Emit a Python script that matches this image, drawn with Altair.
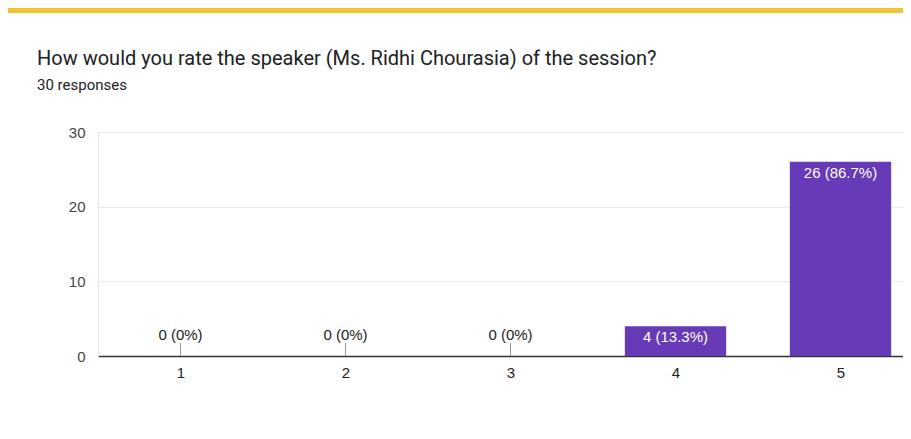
import altair as alt
import pandas as pd

ratings = [1, 2, 3, 4, 5]
counts = [0, 0, 0, 4, 26]
labels = ["0 (0%)", "0 (0%)", "0 (0%)", "4 (13.3%)", "26 (86.7%)"]
title_text = "How would you rate the speaker (Ms. Ridhi Chourasia) of the session?"
subtitle_text = "30 responses"

df = pd.DataFrame({"rating": ratings, "count": counts, "label": labels})

W, H = 805, 224
half = 0.307

x_scale = alt.Scale(domain=[0.5, 0.5 + W / 165], nice=False, zero=False)
y_scale = alt.Scale(domain=[0, 30], nice=False)

base = alt.Chart(df)

bars = base.transform_filter("datum.count > 0").transform_calculate(
    x1=f"datum.rating - {half}", x2=f"datum.rating + {half}"
).mark_rect(color="#673ab7").encode(
    x=alt.X("x1:Q", scale=x_scale, axis=alt.Axis(
        values=ratings, title=None, ticks=False, grid=False, format="d",
        domainColor="#333333", domainWidth=1.5,
        labelFontSize=15, labelColor="#222222", labelFont="Liberation Sans",
        labelPadding=9)),
    x2="x2:Q",
    y=alt.Y("count:Q", scale=y_scale, axis=alt.Axis(
        values=[0, 5, 10, 15, 20, 25, 30], title=None, ticks=False,
        labelExpr="datum.value % 10 == 0 ? datum.label : ''",
        gridColor={"condition": {"test": "datum.value % 10 == 0", "value": "#ebebeb"}, "value": "#f4f4f4"},
        gridWidth=1,
        domainColor="#e6e6e6",
        labelFontSize=15, labelColor="#444444", labelFont="Liberation Sans",
        labelPadding=13)),
    y2=alt.datum(0),
)

in_labels = base.transform_filter("datum.count > 0").mark_text(
    color="white", fontSize=15, font="Liberation Sans", baseline="middle", dy=11
).encode(x=alt.X("rating:Q", scale=x_scale), y=alt.Y("count:Q", scale=y_scale), text="label:N")

zero_rules = base.transform_filter("datum.count == 0").mark_rule(
    color="#999999", strokeWidth=1
).encode(x=alt.X("rating:Q", scale=x_scale), y=alt.Y("count:Q", scale=y_scale), y2=alt.value(H - 13))

zero_labels = base.transform_filter("datum.count == 0").mark_text(
    color="#222222", fontSize=15, font="Liberation Sans", baseline="middle", dy=-21
).encode(x=alt.X("rating:Q", scale=x_scale), y=alt.Y("count:Q", scale=y_scale), text="label:N")

strip = alt.Chart(pd.DataFrame({"k": [0]})).mark_rect(color="#f2c330").encode(
    x=alt.value(-90), x2=alt.value(W), y=alt.value(-124), y2=alt.value(-119)
)

title = alt.Chart(pd.DataFrame({"t": [title_text]})).mark_text(
    align="left", baseline="alphabetic", font="Roboto", fontSize=20, color="#202124"
).encode(x=alt.value(-61), y=alt.value(-67), text="t:N")

subtitle = alt.Chart(pd.DataFrame({"t": [subtitle_text]})).mark_text(
    align="left", baseline="alphabetic", font="Roboto", fontSize=15, color="#202124"
).encode(x=alt.value(-61), y=alt.value(-42), text="t:N")

chart = alt.layer(strip, title, subtitle, bars, zero_rules, zero_labels, in_labels).properties(
    width=W, height=H,
    autosize=alt.AutoSizeParams(type="none"),
    padding={"left": 90, "top": 124, "right": 0, "bottom": 50},
).configure_view(stroke=None).configure(background="white")

chart.save("out.html", embed_options={"renderer": "svg", "actions": False})
